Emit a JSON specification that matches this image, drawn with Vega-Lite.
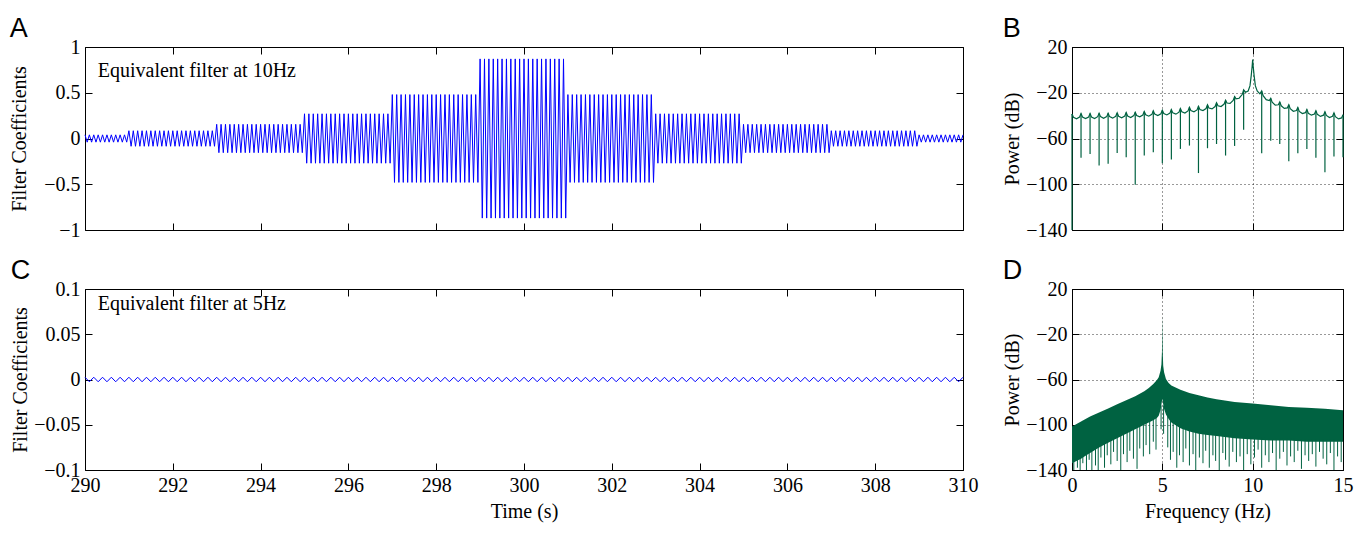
{
"$schema": "https://vega.github.io/schema/vega-lite/v6.json",
"background": "white",
"padding": {"left": 9, "top": 14, "right": 2, "bottom": 2},
"config": {
  "view": {"stroke": "black", "strokeWidth": 1},
  "axis": {"labelFont": "Liberation Serif", "labelFontSize": 20, "labelColor": "black", "titleFont": "Liberation Serif", "titleFontSize": 20, "titleFontWeight": "normal", "titleColor": "black", "tickColor": "black", "tickSize": -7, "tickWidth": 1, "domain": false, "grid": false, "labelPadding": 12, "labelFlush": false, "minExtent": 0},
  "title": {"font": "Liberation Sans", "fontSize": 27, "fontWeight": "normal", "anchor": "start", "frame": "bounds", "offset": -6, "color": "black"}
},
"datasets": {
"a": [
{"t":290,"v":0.04},{"t":290.05,"v":-0.04},{"t":290.1,"v":0.04},{"t":290.15,"v":-0.04},{"t":290.2,"v":0.04},{"t":290.25,"v":-0.04},{"t":290.3,"v":0.04},{"t":290.35,"v":-0.04},{"t":290.4,"v":0.04},{"t":290.45,"v":-0.04},{"t":290.5,"v":0.04},{"t":290.55,"v":-0.04},{"t":290.6,"v":0.04},{"t":290.65,"v":-0.04},{"t":290.7,"v":0.04},{"t":290.75,"v":-0.04},{"t":290.8,"v":0.04},{"t":290.85,"v":-0.04},{"t":290.9,"v":0.04},{"t":290.95,"v":-0.04},
{"t":291,"v":0.085},{"t":291.05,"v":-0.085},{"t":291.1,"v":0.085},{"t":291.15,"v":-0.085},{"t":291.2,"v":0.085},{"t":291.25,"v":-0.085},{"t":291.3,"v":0.085},{"t":291.35,"v":-0.085},{"t":291.4,"v":0.085},{"t":291.45,"v":-0.085},{"t":291.5,"v":0.085},{"t":291.55,"v":-0.085},{"t":291.6,"v":0.085},{"t":291.65,"v":-0.085},{"t":291.7,"v":0.085},{"t":291.75,"v":-0.085},{"t":291.8,"v":0.085},{"t":291.85,"v":-0.085},{"t":291.9,"v":0.085},{"t":291.95,"v":-0.085},
{"t":292,"v":0.085},{"t":292.05,"v":-0.085},{"t":292.1,"v":0.085},{"t":292.15,"v":-0.085},{"t":292.2,"v":0.085},{"t":292.25,"v":-0.085},{"t":292.3,"v":0.085},{"t":292.35,"v":-0.085},{"t":292.4,"v":0.085},{"t":292.45,"v":-0.085},{"t":292.5,"v":0.085},{"t":292.55,"v":-0.085},{"t":292.6,"v":0.085},{"t":292.65,"v":-0.085},{"t":292.7,"v":0.085},{"t":292.75,"v":-0.085},{"t":292.8,"v":0.085},{"t":292.85,"v":-0.085},{"t":292.9,"v":0.085},{"t":292.95,"v":-0.085},
{"t":293,"v":0.155},{"t":293.05,"v":-0.155},{"t":293.1,"v":0.155},{"t":293.15,"v":-0.155},{"t":293.2,"v":0.155},{"t":293.25,"v":-0.155},{"t":293.3,"v":0.155},{"t":293.35,"v":-0.155},{"t":293.4,"v":0.155},{"t":293.45,"v":-0.155},{"t":293.5,"v":0.155},{"t":293.55,"v":-0.155},{"t":293.6,"v":0.155},{"t":293.65,"v":-0.155},{"t":293.7,"v":0.155},{"t":293.75,"v":-0.155},{"t":293.8,"v":0.155},{"t":293.85,"v":-0.155},{"t":293.9,"v":0.155},{"t":293.95,"v":-0.155},
{"t":294,"v":0.155},{"t":294.05,"v":-0.155},{"t":294.1,"v":0.155},{"t":294.15,"v":-0.155},{"t":294.2,"v":0.155},{"t":294.25,"v":-0.155},{"t":294.3,"v":0.155},{"t":294.35,"v":-0.155},{"t":294.4,"v":0.155},{"t":294.45,"v":-0.155},{"t":294.5,"v":0.155},{"t":294.55,"v":-0.155},{"t":294.6,"v":0.155},{"t":294.65,"v":-0.155},{"t":294.7,"v":0.155},{"t":294.75,"v":-0.155},{"t":294.8,"v":0.155},{"t":294.85,"v":-0.155},{"t":294.9,"v":0.155},{"t":294.95,"v":-0.155},
{"t":295,"v":0.27},{"t":295.05,"v":-0.27},{"t":295.1,"v":0.27},{"t":295.15,"v":-0.27},{"t":295.2,"v":0.27},{"t":295.25,"v":-0.27},{"t":295.3,"v":0.27},{"t":295.35,"v":-0.27},{"t":295.4,"v":0.27},{"t":295.45,"v":-0.27},{"t":295.5,"v":0.27},{"t":295.55,"v":-0.27},{"t":295.6,"v":0.27},{"t":295.65,"v":-0.27},{"t":295.7,"v":0.27},{"t":295.75,"v":-0.27},{"t":295.8,"v":0.27},{"t":295.85,"v":-0.27},{"t":295.9,"v":0.27},{"t":295.95,"v":-0.27},
{"t":296,"v":0.27},{"t":296.05,"v":-0.27},{"t":296.1,"v":0.27},{"t":296.15,"v":-0.27},{"t":296.2,"v":0.27},{"t":296.25,"v":-0.27},{"t":296.3,"v":0.27},{"t":296.35,"v":-0.27},{"t":296.4,"v":0.27},{"t":296.45,"v":-0.27},{"t":296.5,"v":0.27},{"t":296.55,"v":-0.27},{"t":296.6,"v":0.27},{"t":296.65,"v":-0.27},{"t":296.7,"v":0.27},{"t":296.75,"v":-0.27},{"t":296.8,"v":0.27},{"t":296.85,"v":-0.27},{"t":296.9,"v":0.27},{"t":296.95,"v":-0.27},
{"t":297,"v":0.48},{"t":297.05,"v":-0.48},{"t":297.1,"v":0.48},{"t":297.15,"v":-0.48},{"t":297.2,"v":0.48},{"t":297.25,"v":-0.48},{"t":297.3,"v":0.48},{"t":297.35,"v":-0.48},{"t":297.4,"v":0.48},{"t":297.45,"v":-0.48},{"t":297.5,"v":0.48},{"t":297.55,"v":-0.48},{"t":297.6,"v":0.48},{"t":297.65,"v":-0.48},{"t":297.7,"v":0.48},{"t":297.75,"v":-0.48},{"t":297.8,"v":0.48},{"t":297.85,"v":-0.48},{"t":297.9,"v":0.48},{"t":297.95,"v":-0.48},
{"t":298,"v":0.48},{"t":298.05,"v":-0.48},{"t":298.1,"v":0.48},{"t":298.15,"v":-0.48},{"t":298.2,"v":0.48},{"t":298.25,"v":-0.48},{"t":298.3,"v":0.48},{"t":298.35,"v":-0.48},{"t":298.4,"v":0.48},{"t":298.45,"v":-0.48},{"t":298.5,"v":0.48},{"t":298.55,"v":-0.48},{"t":298.6,"v":0.48},{"t":298.65,"v":-0.48},{"t":298.7,"v":0.48},{"t":298.75,"v":-0.48},{"t":298.8,"v":0.48},{"t":298.85,"v":-0.48},{"t":298.9,"v":0.48},{"t":298.95,"v":-0.48},
{"t":299,"v":0.87},{"t":299.05,"v":-0.87},{"t":299.1,"v":0.87},{"t":299.15,"v":-0.87},{"t":299.2,"v":0.87},{"t":299.25,"v":-0.87},{"t":299.3,"v":0.87},{"t":299.35,"v":-0.87},{"t":299.4,"v":0.87},{"t":299.45,"v":-0.87},{"t":299.5,"v":0.87},{"t":299.55,"v":-0.87},{"t":299.6,"v":0.87},{"t":299.65,"v":-0.87},{"t":299.7,"v":0.87},{"t":299.75,"v":-0.87},{"t":299.8,"v":0.87},{"t":299.85,"v":-0.87},{"t":299.9,"v":0.87},{"t":299.95,"v":-0.87},
{"t":300,"v":0.87},{"t":300.05,"v":-0.87},{"t":300.1,"v":0.87},{"t":300.15,"v":-0.87},{"t":300.2,"v":0.87},{"t":300.25,"v":-0.87},{"t":300.3,"v":0.87},{"t":300.35,"v":-0.87},{"t":300.4,"v":0.87},{"t":300.45,"v":-0.87},{"t":300.5,"v":0.87},{"t":300.55,"v":-0.87},{"t":300.6,"v":0.87},{"t":300.65,"v":-0.87},{"t":300.7,"v":0.87},{"t":300.75,"v":-0.87},{"t":300.8,"v":0.87},{"t":300.85,"v":-0.87},{"t":300.9,"v":0.87},{"t":300.95,"v":-0.87},
{"t":301,"v":0.48},{"t":301.05,"v":-0.48},{"t":301.1,"v":0.48},{"t":301.15,"v":-0.48},{"t":301.2,"v":0.48},{"t":301.25,"v":-0.48},{"t":301.3,"v":0.48},{"t":301.35,"v":-0.48},{"t":301.4,"v":0.48},{"t":301.45,"v":-0.48},{"t":301.5,"v":0.48},{"t":301.55,"v":-0.48},{"t":301.6,"v":0.48},{"t":301.65,"v":-0.48},{"t":301.7,"v":0.48},{"t":301.75,"v":-0.48},{"t":301.8,"v":0.48},{"t":301.85,"v":-0.48},{"t":301.9,"v":0.48},{"t":301.95,"v":-0.48},
{"t":302,"v":0.48},{"t":302.05,"v":-0.48},{"t":302.1,"v":0.48},{"t":302.15,"v":-0.48},{"t":302.2,"v":0.48},{"t":302.25,"v":-0.48},{"t":302.3,"v":0.48},{"t":302.35,"v":-0.48},{"t":302.4,"v":0.48},{"t":302.45,"v":-0.48},{"t":302.5,"v":0.48},{"t":302.55,"v":-0.48},{"t":302.6,"v":0.48},{"t":302.65,"v":-0.48},{"t":302.7,"v":0.48},{"t":302.75,"v":-0.48},{"t":302.8,"v":0.48},{"t":302.85,"v":-0.48},{"t":302.9,"v":0.48},{"t":302.95,"v":-0.48},
{"t":303,"v":0.27},{"t":303.05,"v":-0.27},{"t":303.1,"v":0.27},{"t":303.15,"v":-0.27},{"t":303.2,"v":0.27},{"t":303.25,"v":-0.27},{"t":303.3,"v":0.27},{"t":303.35,"v":-0.27},{"t":303.4,"v":0.27},{"t":303.45,"v":-0.27},{"t":303.5,"v":0.27},{"t":303.55,"v":-0.27},{"t":303.6,"v":0.27},{"t":303.65,"v":-0.27},{"t":303.7,"v":0.27},{"t":303.75,"v":-0.27},{"t":303.8,"v":0.27},{"t":303.85,"v":-0.27},{"t":303.9,"v":0.27},{"t":303.95,"v":-0.27},
{"t":304,"v":0.27},{"t":304.05,"v":-0.27},{"t":304.1,"v":0.27},{"t":304.15,"v":-0.27},{"t":304.2,"v":0.27},{"t":304.25,"v":-0.27},{"t":304.3,"v":0.27},{"t":304.35,"v":-0.27},{"t":304.4,"v":0.27},{"t":304.45,"v":-0.27},{"t":304.5,"v":0.27},{"t":304.55,"v":-0.27},{"t":304.6,"v":0.27},{"t":304.65,"v":-0.27},{"t":304.7,"v":0.27},{"t":304.75,"v":-0.27},{"t":304.8,"v":0.27},{"t":304.85,"v":-0.27},{"t":304.9,"v":0.27},{"t":304.95,"v":-0.27},
{"t":305,"v":0.155},{"t":305.05,"v":-0.155},{"t":305.1,"v":0.155},{"t":305.15,"v":-0.155},{"t":305.2,"v":0.155},{"t":305.25,"v":-0.155},{"t":305.3,"v":0.155},{"t":305.35,"v":-0.155},{"t":305.4,"v":0.155},{"t":305.45,"v":-0.155},{"t":305.5,"v":0.155},{"t":305.55,"v":-0.155},{"t":305.6,"v":0.155},{"t":305.65,"v":-0.155},{"t":305.7,"v":0.155},{"t":305.75,"v":-0.155},{"t":305.8,"v":0.155},{"t":305.85,"v":-0.155},{"t":305.9,"v":0.155},{"t":305.95,"v":-0.155},
{"t":306,"v":0.155},{"t":306.05,"v":-0.155},{"t":306.1,"v":0.155},{"t":306.15,"v":-0.155},{"t":306.2,"v":0.155},{"t":306.25,"v":-0.155},{"t":306.3,"v":0.155},{"t":306.35,"v":-0.155},{"t":306.4,"v":0.155},{"t":306.45,"v":-0.155},{"t":306.5,"v":0.155},{"t":306.55,"v":-0.155},{"t":306.6,"v":0.155},{"t":306.65,"v":-0.155},{"t":306.7,"v":0.155},{"t":306.75,"v":-0.155},{"t":306.8,"v":0.155},{"t":306.85,"v":-0.155},{"t":306.9,"v":0.155},{"t":306.95,"v":-0.155},
{"t":307,"v":0.085},{"t":307.05,"v":-0.085},{"t":307.1,"v":0.085},{"t":307.15,"v":-0.085},{"t":307.2,"v":0.085},{"t":307.25,"v":-0.085},{"t":307.3,"v":0.085},{"t":307.35,"v":-0.085},{"t":307.4,"v":0.085},{"t":307.45,"v":-0.085},{"t":307.5,"v":0.085},{"t":307.55,"v":-0.085},{"t":307.6,"v":0.085},{"t":307.65,"v":-0.085},{"t":307.7,"v":0.085},{"t":307.75,"v":-0.085},{"t":307.8,"v":0.085},{"t":307.85,"v":-0.085},{"t":307.9,"v":0.085},{"t":307.95,"v":-0.085},
{"t":308,"v":0.085},{"t":308.05,"v":-0.085},{"t":308.1,"v":0.085},{"t":308.15,"v":-0.085},{"t":308.2,"v":0.085},{"t":308.25,"v":-0.085},{"t":308.3,"v":0.085},{"t":308.35,"v":-0.085},{"t":308.4,"v":0.085},{"t":308.45,"v":-0.085},{"t":308.5,"v":0.085},{"t":308.55,"v":-0.085},{"t":308.6,"v":0.085},{"t":308.65,"v":-0.085},{"t":308.7,"v":0.085},{"t":308.75,"v":-0.085},{"t":308.8,"v":0.085},{"t":308.85,"v":-0.085},{"t":308.9,"v":0.085},{"t":308.95,"v":-0.085},
{"t":309,"v":0.04},{"t":309.05,"v":-0.04},{"t":309.1,"v":0.04},{"t":309.15,"v":-0.04},{"t":309.2,"v":0.04},{"t":309.25,"v":-0.04},{"t":309.3,"v":0.04},{"t":309.35,"v":-0.04},{"t":309.4,"v":0.04},{"t":309.45,"v":-0.04},{"t":309.5,"v":0.04},{"t":309.55,"v":-0.04},{"t":309.6,"v":0.04},{"t":309.65,"v":-0.04},{"t":309.7,"v":0.04},{"t":309.75,"v":-0.04},{"t":309.8,"v":0.04},{"t":309.85,"v":-0.04},{"t":309.9,"v":0.04},{"t":309.95,"v":-0.04},{"t":310,"v":0.04}
],
"c": [
{"t":290,"v":0.0025},{"t":290.1,"v":-0.0025},{"t":290.2,"v":0.0025},{"t":290.3,"v":-0.0025},{"t":290.4,"v":0.0025},{"t":290.5,"v":-0.0025},{"t":290.6,"v":0.0025},{"t":290.7,"v":-0.0025},{"t":290.8,"v":0.0025},{"t":290.9,"v":-0.0025},
{"t":291,"v":0.0025},{"t":291.1,"v":-0.0025},{"t":291.2,"v":0.0025},{"t":291.3,"v":-0.0025},{"t":291.4,"v":0.0025},{"t":291.5,"v":-0.0025},{"t":291.6,"v":0.0025},{"t":291.7,"v":-0.0025},{"t":291.8,"v":0.0025},{"t":291.9,"v":-0.0025},
{"t":292,"v":0.0025},{"t":292.1,"v":-0.0025},{"t":292.2,"v":0.0025},{"t":292.3,"v":-0.0025},{"t":292.4,"v":0.0025},{"t":292.5,"v":-0.0025},{"t":292.6,"v":0.0025},{"t":292.7,"v":-0.0025},{"t":292.8,"v":0.0025},{"t":292.9,"v":-0.0025},
{"t":293,"v":0.0025},{"t":293.1,"v":-0.0025},{"t":293.2,"v":0.0025},{"t":293.3,"v":-0.0025},{"t":293.4,"v":0.0025},{"t":293.5,"v":-0.0025},{"t":293.6,"v":0.0025},{"t":293.7,"v":-0.0025},{"t":293.8,"v":0.0025},{"t":293.9,"v":-0.0025},
{"t":294,"v":0.0025},{"t":294.1,"v":-0.0025},{"t":294.2,"v":0.0025},{"t":294.3,"v":-0.0025},{"t":294.4,"v":0.0025},{"t":294.5,"v":-0.0025},{"t":294.6,"v":0.0025},{"t":294.7,"v":-0.0025},{"t":294.8,"v":0.0025},{"t":294.9,"v":-0.0025},
{"t":295,"v":0.0025},{"t":295.1,"v":-0.0025},{"t":295.2,"v":0.0025},{"t":295.3,"v":-0.0025},{"t":295.4,"v":0.0025},{"t":295.5,"v":-0.0025},{"t":295.6,"v":0.0025},{"t":295.7,"v":-0.0025},{"t":295.8,"v":0.0025},{"t":295.9,"v":-0.0025},
{"t":296,"v":0.0025},{"t":296.1,"v":-0.0025},{"t":296.2,"v":0.0025},{"t":296.3,"v":-0.0025},{"t":296.4,"v":0.0025},{"t":296.5,"v":-0.0025},{"t":296.6,"v":0.0025},{"t":296.7,"v":-0.0025},{"t":296.8,"v":0.0025},{"t":296.9,"v":-0.0025},
{"t":297,"v":0.0025},{"t":297.1,"v":-0.0025},{"t":297.2,"v":0.0025},{"t":297.3,"v":-0.0025},{"t":297.4,"v":0.0025},{"t":297.5,"v":-0.0025},{"t":297.6,"v":0.0025},{"t":297.7,"v":-0.0025},{"t":297.8,"v":0.0025},{"t":297.9,"v":-0.0025},
{"t":298,"v":0.0025},{"t":298.1,"v":-0.0025},{"t":298.2,"v":0.0025},{"t":298.3,"v":-0.0025},{"t":298.4,"v":0.0025},{"t":298.5,"v":-0.0025},{"t":298.6,"v":0.0025},{"t":298.7,"v":-0.0025},{"t":298.8,"v":0.0025},{"t":298.9,"v":-0.0025},
{"t":299,"v":0.0025},{"t":299.1,"v":-0.0025},{"t":299.2,"v":0.0025},{"t":299.3,"v":-0.0025},{"t":299.4,"v":0.0025},{"t":299.5,"v":-0.0025},{"t":299.6,"v":0.0025},{"t":299.7,"v":-0.0025},{"t":299.8,"v":0.0025},{"t":299.9,"v":-0.0025},
{"t":300,"v":0.0025},{"t":300.1,"v":-0.0025},{"t":300.2,"v":0.0025},{"t":300.3,"v":-0.0025},{"t":300.4,"v":0.0025},{"t":300.5,"v":-0.0025},{"t":300.6,"v":0.0025},{"t":300.7,"v":-0.0025},{"t":300.8,"v":0.0025},{"t":300.9,"v":-0.0025},
{"t":301,"v":0.0025},{"t":301.1,"v":-0.0025},{"t":301.2,"v":0.0025},{"t":301.3,"v":-0.0025},{"t":301.4,"v":0.0025},{"t":301.5,"v":-0.0025},{"t":301.6,"v":0.0025},{"t":301.7,"v":-0.0025},{"t":301.8,"v":0.0025},{"t":301.9,"v":-0.0025},
{"t":302,"v":0.0025},{"t":302.1,"v":-0.0025},{"t":302.2,"v":0.0025},{"t":302.3,"v":-0.0025},{"t":302.4,"v":0.0025},{"t":302.5,"v":-0.0025},{"t":302.6,"v":0.0025},{"t":302.7,"v":-0.0025},{"t":302.8,"v":0.0025},{"t":302.9,"v":-0.0025},
{"t":303,"v":0.0025},{"t":303.1,"v":-0.0025},{"t":303.2,"v":0.0025},{"t":303.3,"v":-0.0025},{"t":303.4,"v":0.0025},{"t":303.5,"v":-0.0025},{"t":303.6,"v":0.0025},{"t":303.7,"v":-0.0025},{"t":303.8,"v":0.0025},{"t":303.9,"v":-0.0025},
{"t":304,"v":0.0025},{"t":304.1,"v":-0.0025},{"t":304.2,"v":0.0025},{"t":304.3,"v":-0.0025},{"t":304.4,"v":0.0025},{"t":304.5,"v":-0.0025},{"t":304.6,"v":0.0025},{"t":304.7,"v":-0.0025},{"t":304.8,"v":0.0025},{"t":304.9,"v":-0.0025},
{"t":305,"v":0.0025},{"t":305.1,"v":-0.0025},{"t":305.2,"v":0.0025},{"t":305.3,"v":-0.0025},{"t":305.4,"v":0.0025},{"t":305.5,"v":-0.0025},{"t":305.6,"v":0.0025},{"t":305.7,"v":-0.0025},{"t":305.8,"v":0.0025},{"t":305.9,"v":-0.0025},
{"t":306,"v":0.0025},{"t":306.1,"v":-0.0025},{"t":306.2,"v":0.0025},{"t":306.3,"v":-0.0025},{"t":306.4,"v":0.0025},{"t":306.5,"v":-0.0025},{"t":306.6,"v":0.0025},{"t":306.7,"v":-0.0025},{"t":306.8,"v":0.0025},{"t":306.9,"v":-0.0025},
{"t":307,"v":0.0025},{"t":307.1,"v":-0.0025},{"t":307.2,"v":0.0025},{"t":307.3,"v":-0.0025},{"t":307.4,"v":0.0025},{"t":307.5,"v":-0.0025},{"t":307.6,"v":0.0025},{"t":307.7,"v":-0.0025},{"t":307.8,"v":0.0025},{"t":307.9,"v":-0.0025},
{"t":308,"v":0.0025},{"t":308.1,"v":-0.0025},{"t":308.2,"v":0.0025},{"t":308.3,"v":-0.0025},{"t":308.4,"v":0.0025},{"t":308.5,"v":-0.0025},{"t":308.6,"v":0.0025},{"t":308.7,"v":-0.0025},{"t":308.8,"v":0.0025},{"t":308.9,"v":-0.0025},
{"t":309,"v":0.0025},{"t":309.1,"v":-0.0025},{"t":309.2,"v":0.0025},{"t":309.3,"v":-0.0025},{"t":309.4,"v":0.0025},{"t":309.5,"v":-0.0025},{"t":309.6,"v":0.0025},{"t":309.7,"v":-0.0025},{"t":309.8,"v":0.0025},{"t":309.9,"v":-0.0025},{"t":310,"v":0.0025}
],
"bline": [
{"f":0,"p":-38.5},{"f":0.08,"p":-41.5},{"f":0.25,"p":-42.8},{"f":0.42,"p":-41.2},
{"f":0.5,"p":-38.2},{"f":0.58,"p":-41.2},{"f":0.75,"p":-42.6},{"f":0.92,"p":-41.2},
{"f":1.0,"p":-38.2},{"f":1.08,"p":-41.2},{"f":1.25,"p":-42.5},{"f":1.42,"p":-40.9},
{"f":1.5,"p":-37.9},{"f":1.58,"p":-40.9},{"f":1.75,"p":-42.3},{"f":1.92,"p":-40.9},
{"f":2.0,"p":-37.9},{"f":2.08,"p":-40.9},{"f":2.25,"p":-42.2},{"f":2.42,"p":-40.6},
{"f":2.5,"p":-37.6},{"f":2.58,"p":-40.6},{"f":2.75,"p":-41.9},{"f":2.92,"p":-40.3},
{"f":3.0,"p":-37.3},{"f":3.08,"p":-40.3},{"f":3.25,"p":-41.6},{"f":3.42,"p":-40.0},
{"f":3.5,"p":-37.0},{"f":3.58,"p":-39.9},{"f":3.75,"p":-41.1},{"f":3.92,"p":-39.5},
{"f":4.0,"p":-36.4},{"f":4.08,"p":-39.3},{"f":4.25,"p":-40.5},{"f":4.42,"p":-38.9},
{"f":4.5,"p":-35.8},{"f":4.58,"p":-38.7},{"f":4.75,"p":-40.0},{"f":4.92,"p":-38.4},
{"f":5.0,"p":-35.3},{"f":5.08,"p":-38.2},{"f":5.25,"p":-39.4},{"f":5.42,"p":-37.8},
{"f":5.5,"p":-34.7},{"f":5.58,"p":-37.6},{"f":5.75,"p":-38.7},{"f":5.92,"p":-37.0},
{"f":6.0,"p":-33.8},{"f":6.08,"p":-36.6},{"f":6.25,"p":-37.7},{"f":6.42,"p":-35.9},
{"f":6.5,"p":-32.7},{"f":6.58,"p":-35.6},{"f":6.75,"p":-36.7},{"f":6.92,"p":-35.0},
{"f":7.0,"p":-31.8},{"f":7.08,"p":-34.6},{"f":7.25,"p":-35.6},{"f":7.42,"p":-33.8},
{"f":7.5,"p":-30.6},{"f":7.58,"p":-33.3},{"f":7.75,"p":-34.1},{"f":7.92,"p":-32.1},
{"f":8.0,"p":-28.8},{"f":8.08,"p":-31.4},{"f":8.25,"p":-32.1},{"f":8.42,"p":-29.9},
{"f":8.5,"p":-26.5},{"f":8.58,"p":-29.0},{"f":8.75,"p":-29.3},{"f":8.92,"p":-26.8},
{"f":9.0,"p":-23.3},{"f":9.08,"p":-25.4},{"f":9.25,"p":-24.8},{"f":9.42,"p":-21.6},
{"f":9.5,"p":-17.5},{"f":9.6,"p":-19.5},{"f":9.75,"p":-18.5},{"f":9.85,"p":-14},{"f":9.92,"p":-5},{"f":9.97,"p":3},{"f":10.0,"p":9},{"f":10.03,"p":3},{"f":10.08,"p":-5},{"f":10.15,"p":-14},{"f":10.25,"p":-18.5},{"f":10.4,"p":-21},
{"f":10.5,"p":-18.5},{"f":10.58,"p":-22.5},{"f":10.75,"p":-26.0},{"f":10.92,"p":-26.8},
{"f":11.0,"p":-24.8},{"f":11.08,"p":-28.3},{"f":11.25,"p":-30.8},{"f":11.42,"p":-30.5},
{"f":11.5,"p":-28.0},{"f":11.58,"p":-31.4},{"f":11.75,"p":-33.7},{"f":11.92,"p":-33.2},
{"f":12.0,"p":-30.6},{"f":12.08,"p":-34.0},{"f":12.25,"p":-36.2},{"f":12.42,"p":-35.6},
{"f":12.5,"p":-33.0},{"f":12.58,"p":-36.3},{"f":12.75,"p":-38.2},{"f":12.92,"p":-37.4},
{"f":13.0,"p":-34.7},{"f":13.08,"p":-37.9},{"f":13.25,"p":-39.6},{"f":13.42,"p":-38.6},
{"f":13.5,"p":-35.8},{"f":13.58,"p":-38.9},{"f":13.75,"p":-40.7},{"f":13.92,"p":-39.6},
{"f":14.0,"p":-36.7},{"f":14.08,"p":-39.8},{"f":14.25,"p":-41.6},{"f":14.42,"p":-40.5},
{"f":14.5,"p":-37.6},{"f":14.58,"p":-40.9},{"f":14.75,"p":-42.9},{"f":14.92,"p":-42.0},
{"f":15.0,"p":-39.3}
],
"bdips": [
{"f":0,"c":-38.5,"d":-140},{"f":0.5,"c":-38.2,"d":-76.9},{"f":1.0,"c":-38.2,"d":-73.5},{"f":1.5,"c":-37.9,"d":-83.6},{"f":2.0,"c":-37.9,"d":-82.1},{"f":2.5,"c":-37.6,"d":-72.6},{"f":3.0,"c":-37.3,"d":-76.4},{"f":3.5,"c":-37.0,"d":-100.4},{"f":4.0,"c":-36.4,"d":-74.9},{"f":4.5,"c":-35.8,"d":-72.0},{"f":5.0,"c":-35.3,"d":-81.6},{"f":5.5,"c":-34.7,"d":-78.4},{"f":6.0,"c":-33.8,"d":-69.1},{"f":6.5,"c":-32.7,"d":-66.2},{"f":7.0,"c":-31.8,"d":-90.2},{"f":7.5,"c":-30.6,"d":-68.5},{"f":8.0,"c":-28.8,"d":-64.8},{"f":8.5,"c":-26.5,"d":-74.9},{"f":9.0,"c":-23.3,"d":-66.5},{"f":9.5,"c":-17.5,"d":-52.3},{"f":10.5,"c":-18.5,"d":-72.9},{"f":11.0,"c":-24.8,"d":-61.9},{"f":11.5,"c":-28.0,"d":-64.8},{"f":12.0,"c":-30.6,"d":-79.8},{"f":12.5,"c":-33.0,"d":-72.9},{"f":13.0,"c":-34.7,"d":-69.1},{"f":13.5,"c":-35.8,"d":-76.9},{"f":14.0,"c":-36.7,"d":-89.4},{"f":14.5,"c":-37.6,"d":-75.8},{"f":15.0,"c":-39.3,"d":-76.4}
],
"darea": [
{"f":0,"hi":-101.5,"lo":-134},{"f":0.25,"hi":-99.3,"lo":-132},{"f":0.5,"hi":-97.2,"lo":-130},{"f":0.75,"hi":-95,"lo":-127.5},{"f":1.0,"hi":-92.8,"lo":-125},{"f":1.5,"hi":-89.1,"lo":-120},{"f":2.0,"hi":-85.6,"lo":-116},{"f":2.5,"hi":-81.9,"lo":-112},{"f":3.0,"hi":-78.4,"lo":-108},{"f":3.5,"hi":-74.9,"lo":-104},{"f":4.0,"hi":-70.3,"lo":-100},{"f":4.25,"hi":-67.5,"lo":-98},{"f":4.5,"hi":-63.9,"lo":-96},{"f":4.7,"hi":-60.5,"lo":-94},{"f":4.8,"hi":-58.1,"lo":-92},{"f":4.9,"hi":-52.3,"lo":-87},{"f":4.95,"hi":-46.6,"lo":-82},{"f":4.98,"hi":-35,"lo":-79},{"f":5.0,"hi":-3,"lo":-77},{"f":5.02,"hi":-35,"lo":-79},{"f":5.05,"hi":-48,"lo":-82},{"f":5.1,"hi":-53.8,"lo":-86},{"f":5.2,"hi":-59.6,"lo":-91},{"f":5.35,"hi":-63,"lo":-95},{"f":5.5,"hi":-65.4,"lo":-98},{"f":6.0,"hi":-69.1,"lo":-103},{"f":6.5,"hi":-72,"lo":-106},{"f":7.0,"hi":-74,"lo":-108},{"f":7.5,"hi":-76,"lo":-109},{"f":8.0,"hi":-77.5,"lo":-110},{"f":9.0,"hi":-79.8,"lo":-112},{"f":10.0,"hi":-81.3,"lo":-113},{"f":11.0,"hi":-82.7,"lo":-114},{"f":12.0,"hi":-84.2,"lo":-114},{"f":13.0,"hi":-85,"lo":-115},{"f":14.0,"hi":-85.9,"lo":-115},{"f":15.0,"hi":-87.1,"lo":-115}
],
"dspikes": [
{"f":0.1,"s":-130,"d":-140},{"f":0.3,"s":-128,"d":-138},{"f":0.45,"s":-127,"d":-140},{"f":0.6,"s":-125,"d":-134},{"f":0.8,"s":-124,"d":-140},{"f":0.95,"s":-122,"d":-131},{"f":1.1,"s":-121,"d":-140},{"f":1.3,"s":-119,"d":-136},{"f":1.45,"s":-117,"d":-140},{"f":1.6,"s":-116,"d":-129},{"f":1.8,"s":-114,"d":-138},{"f":1.95,"s":-113,"d":-127},{"f":2.15,"s":-111,"d":-135},{"f":2.3,"s":-110,"d":-124},{"f":2.5,"s":-109,"d":-132},{"f":2.7,"s":-107,"d":-140},{"f":2.85,"s":-106,"d":-126},{"f":3.05,"s":-105,"d":-133},{"f":3.2,"s":-104,"d":-123},{"f":3.4,"s":-102,"d":-130},{"f":3.6,"s":-101,"d":-139},{"f":3.75,"s":-100,"d":-121},{"f":3.95,"s":-98,"d":-128},{"f":4.1,"s":-97,"d":-118},{"f":4.3,"s":-95,"d":-126},{"f":4.5,"s":-93,"d":-115},{"f":4.65,"s":-91,"d":-122},{"f":4.93,"s":-83,"d":-104},{"f":5.07,"s":-83,"d":-108},{"f":5.3,"s":-92,"d":-120},{"f":5.45,"s":-95,"d":-131},{"f":5.6,"s":-97,"d":-124},{"f":5.8,"s":-99,"d":-138},{"f":5.95,"s":-100,"d":-127},{"f":6.15,"s":-101,"d":-133},{"f":6.3,"s":-102,"d":-121},{"f":6.5,"s":-103,"d":-136},{"f":6.7,"s":-104,"d":-126},{"f":6.85,"s":-105,"d":-140},{"f":7.05,"s":-105,"d":-129},{"f":7.25,"s":-106,"d":-134},{"f":7.4,"s":-106,"d":-123},{"f":7.6,"s":-107,"d":-138},{"f":7.8,"s":-107,"d":-127},{"f":7.95,"s":-107,"d":-132},{"f":8.15,"s":-108,"d":-140},{"f":8.35,"s":-108,"d":-125},{"f":8.5,"s":-108,"d":-131},{"f":8.7,"s":-109,"d":-137},{"f":8.9,"s":-109,"d":-124},{"f":9.1,"s":-109,"d":-133},{"f":9.3,"s":-110,"d":-128},{"f":9.5,"s":-110,"d":-140},{"f":9.7,"s":-110,"d":-126},{"f":9.9,"s":-110,"d":-135},{"f":10.1,"s":-111,"d":-129},{"f":10.3,"s":-111,"d":-122},{"f":10.5,"s":-111,"d":-138},{"f":10.7,"s":-111,"d":-127},{"f":10.9,"s":-112,"d":-133},{"f":11.1,"s":-112,"d":-125},{"f":11.3,"s":-112,"d":-140},{"f":11.5,"s":-112,"d":-130},{"f":11.7,"s":-112,"d":-124},{"f":11.9,"s":-112,"d":-136},{"f":12.1,"s":-112,"d":-128},{"f":12.3,"s":-112,"d":-133},{"f":12.5,"s":-113,"d":-123},{"f":12.7,"s":-113,"d":-139},{"f":12.9,"s":-113,"d":-127},{"f":13.1,"s":-113,"d":-132},{"f":13.3,"s":-113,"d":-126},{"f":13.5,"s":-113,"d":-137},{"f":13.7,"s":-113,"d":-124},{"f":13.9,"s":-113,"d":-130},{"f":14.1,"s":-113,"d":-135},{"f":14.3,"s":-113,"d":-125},{"f":14.5,"s":-113,"d":-140},{"f":14.7,"s":-113,"d":-128},{"f":14.9,"s":-113,"d":-133}
]
},
"spacing": 23,
"hconcat": [
{
 "spacing": 15,
 "vconcat": [
 {
  "width": 878, "height": 183,
  "title": {"text": "A"},
  "resolve": {"axis": {"x": "independent", "y": "independent"}},
  "layer": [
   {"data": {"name": "a"},
    "mark": {"type": "line", "color": "#0000ff", "strokeWidth": 1},
    "encoding": {
     "x": {"field": "t", "type": "quantitative", "scale": {"domain": [290, 310], "nice": false, "zero": false}, "axis": {"values": [290,292,294,296,298,300,302,304,306,308,310], "labels": false, "title": null}},
     "y": {"field": "v", "type": "quantitative", "scale": {"domain": [-1, 1], "nice": false}, "axis": {"values": [-1,-0.5,0,0.5,1], "format": "~g", "title": "Filter Coefficients", "titlePadding": 14}}
    }},
   {"data": {"values": [{"t": 290.29, "v": 0.668, "label": "Equivalent filter at 10Hz"}]},
    "mark": {"type": "text", "align": "left", "baseline": "alphabetic", "font": "Liberation Serif", "fontSize": 20, "color": "black"},
    "encoding": {
     "x": {"field": "t", "type": "quantitative", "scale": {"domain": [290, 310], "nice": false, "zero": false}, "axis": {"orient": "top", "values": [290,292,294,296,298,300,302,304,306,308,310], "labels": false, "title": null}},
     "y": {"field": "v", "type": "quantitative", "scale": {"domain": [-1, 1], "nice": false}, "axis": {"orient": "right", "values": [-1,-0.5,0,0.5,1], "labels": false, "title": null}},
     "text": {"field": "label"}
    }}
  ]
 },
 {
  "width": 878, "height": 181,
  "title": {"text": "C"},
  "resolve": {"axis": {"x": "independent", "y": "independent"}},
  "layer": [
   {"data": {"name": "c"},
    "mark": {"type": "line", "color": "#0000ff", "strokeWidth": 1},
    "encoding": {
     "x": {"field": "t", "type": "quantitative", "scale": {"domain": [290, 310], "nice": false, "zero": false}, "axis": {"values": [290,292,294,296,298,300,302,304,306,308,310], "title": "Time (s)", "titlePadding": 6}},
     "y": {"field": "v", "type": "quantitative", "scale": {"domain": [-0.1, 0.1], "nice": false}, "axis": {"values": [-0.1,-0.05,0,0.05,0.1], "format": "~g", "title": "Filter Coefficients", "titlePadding": 3}}
    }},
   {"data": {"values": [{"t": 290.29, "v": 0.077, "label": "Equivalent filter at 5Hz"}]},
    "mark": {"type": "text", "align": "left", "baseline": "alphabetic", "font": "Liberation Serif", "fontSize": 20, "color": "black"},
    "encoding": {
     "x": {"field": "t", "type": "quantitative", "scale": {"domain": [290, 310], "nice": false, "zero": false}, "axis": {"orient": "top", "values": [290,292,294,296,298,300,302,304,306,308,310], "labels": false, "title": null}},
     "y": {"field": "v", "type": "quantitative", "scale": {"domain": [-0.1, 0.1], "nice": false}, "axis": {"orient": "right", "values": [-0.1,-0.05,0,0.05,0.1], "labels": false, "title": null}},
     "text": {"field": "label"}
    }}
  ]
 }
 ]
},
{
 "spacing": 15,
 "vconcat": [
 {
  "width": 271, "height": 183,
  "title": {"text": "B"},
  "resolve": {"axis": {"x": "independent", "y": "independent"}},
  "layer": [
   {"data": {"name": "bline"},
    "mark": {"type": "line", "color": "#006241", "strokeWidth": 1.2},
    "encoding": {
     "x": {"field": "f", "type": "quantitative", "scale": {"domain": [0, 15], "nice": false}, "axis": {"values": [0,5,10,15], "labels": false, "title": null, "grid": true, "gridDash": [1,3], "gridColor": "black", "gridOpacity": 0.8}},
     "y": {"field": "p", "type": "quantitative", "scale": {"domain": [-140, 20], "nice": false, "zero": false}, "axis": {"values": [20,-20,-60,-100,-140], "title": "Power (dB)", "titlePadding": 3, "grid": true, "gridDash": [1,3], "gridColor": "black", "gridOpacity": 0.8}}
    }},
   {"data": {"name": "bdips"},
    "mark": {"type": "rule", "color": "#006241", "strokeWidth": 1.2},
    "encoding": {
     "x": {"field": "f", "type": "quantitative", "scale": {"domain": [0, 15], "nice": false}, "axis": {"orient": "top", "values": [0,5,10,15], "labels": false, "title": null}},
     "y": {"field": "d", "type": "quantitative", "scale": {"domain": [-140, 20], "nice": false, "zero": false}, "axis": {"orient": "right", "values": [20,-20,-60,-100,-140], "labels": false, "title": null}},
     "y2": {"field": "c"}
    }}
  ]
 },
 {
  "width": 271, "height": 181,
  "title": {"text": "D"},
  "resolve": {"axis": {"x": "independent", "y": "independent"}},
  "layer": [
   {"data": {"name": "darea"},
    "mark": {"type": "area", "color": "#006241", "interpolate": "linear"},
    "encoding": {
     "x": {"field": "f", "type": "quantitative", "scale": {"domain": [0, 15], "nice": false}, "axis": {"values": [0,5,10,15], "title": "Frequency (Hz)", "titlePadding": 6, "grid": true, "gridDash": [1,3], "gridColor": "black", "gridOpacity": 0.8}},
     "y": {"field": "hi", "type": "quantitative", "scale": {"domain": [-140, 20], "nice": false, "zero": false}, "axis": {"values": [20,-20,-60,-100,-140], "title": "Power (dB)", "titlePadding": 3, "grid": true, "gridDash": [1,3], "gridColor": "black", "gridOpacity": 0.8}},
     "y2": {"field": "lo"}
    }},
   {"data": {"name": "dspikes"},
    "mark": {"type": "rule", "color": "#006241", "strokeWidth": 1},
    "encoding": {
     "x": {"field": "f", "type": "quantitative", "scale": {"domain": [0, 15], "nice": false}, "axis": {"orient": "top", "values": [0,5,10,15], "labels": false, "title": null}},
     "y": {"field": "d", "type": "quantitative", "scale": {"domain": [-140, 20], "nice": false, "zero": false}, "axis": {"orient": "right", "values": [20,-20,-60,-100,-140], "labels": false, "title": null}},
     "y2": {"field": "s"}
    }}
  ]
 }
 ]
}
]
}
